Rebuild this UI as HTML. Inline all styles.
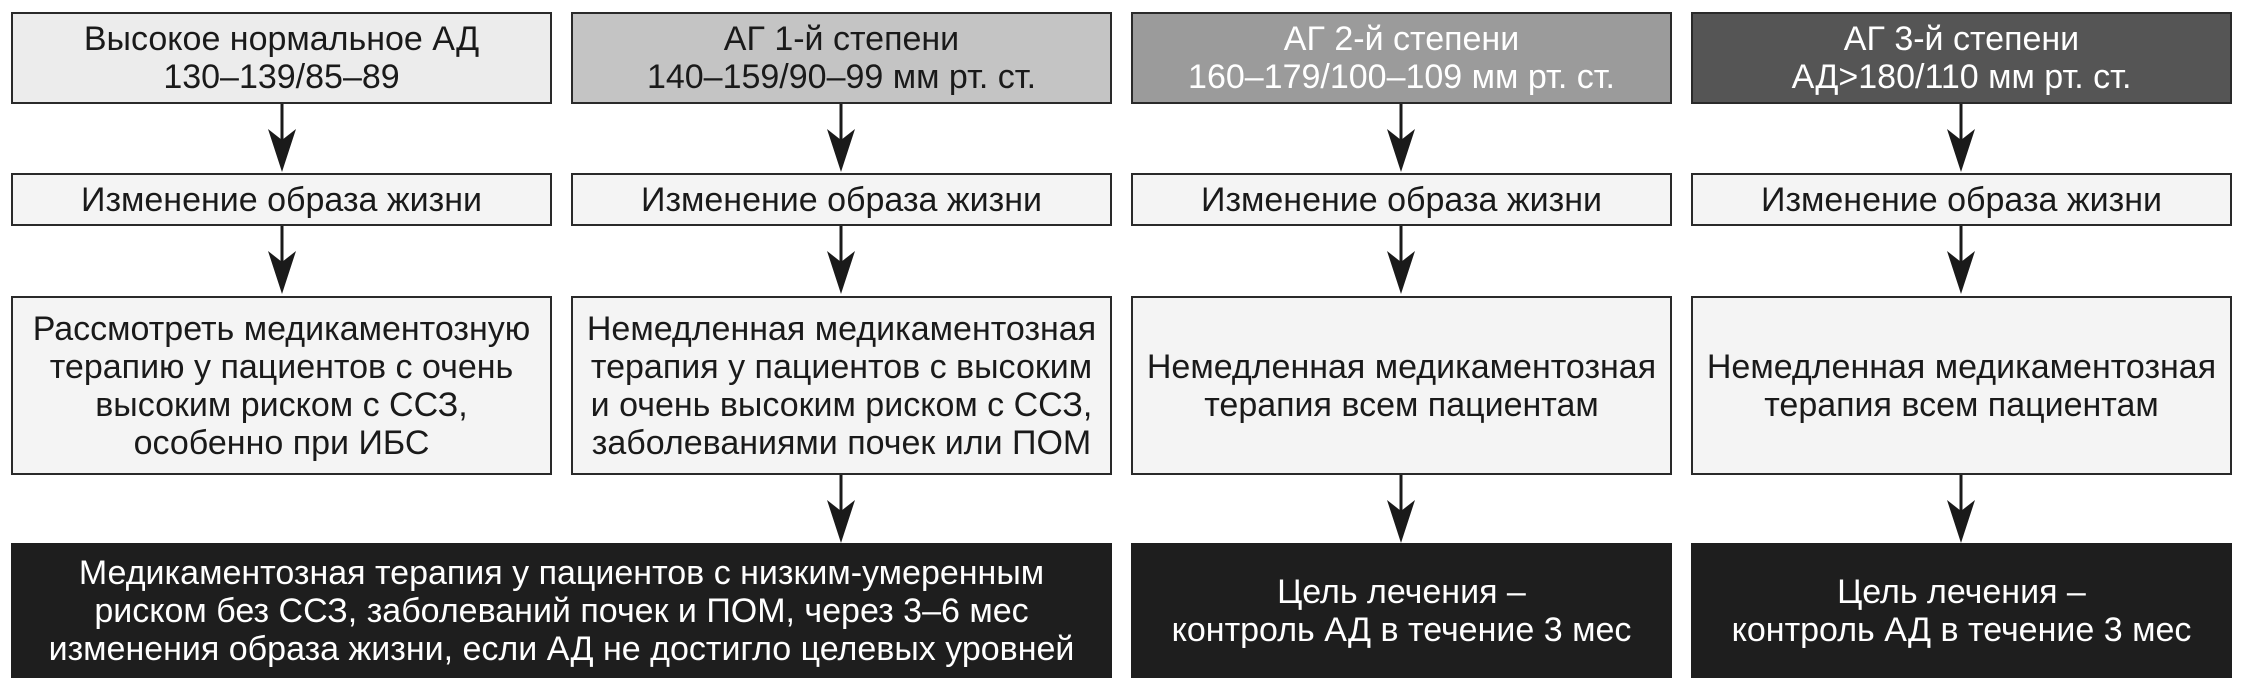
<!DOCTYPE html>
<html><head><meta charset="utf-8"><style>
body{margin:0;width:2243px;height:680px;background:#fff;position:relative;overflow:hidden;font-family:"Liberation Sans","Noto Sans CJK SC",sans-serif;}
.b{position:absolute;box-sizing:border-box;border:2px solid #2a2a2a;display:flex;align-items:center;justify-content:center;text-align:center;font-size:34px;line-height:38px;color:#1a1a1a;}
.w{color:#fff}
</style></head><body>
<div class="b" style="left:11px;top:12px;width:541px;height:92px;background:#ececec">Высокое нормальное АД<br>130–139/85–89</div>
<div class="b" style="left:571px;top:12px;width:541px;height:92px;background:#c4c4c4">АГ 1-й степени<br>140–159/90–99 мм рт. ст.</div>
<div class="b w" style="left:1131px;top:12px;width:541px;height:92px;background:#9b9b9b">АГ 2-й степени<br>160–179/100–109 мм рт. ст.</div>
<div class="b w" style="left:1691px;top:12px;width:541px;height:92px;background:#555">АГ 3-й степени<br>АД&gt;180/110 мм рт. ст.</div>

<div class="b" style="left:11px;top:173px;width:541px;height:53px;background:#f4f4f4">Изменение образа жизни</div>
<div class="b" style="left:571px;top:173px;width:541px;height:53px;background:#f4f4f4">Изменение образа жизни</div>
<div class="b" style="left:1131px;top:173px;width:541px;height:53px;background:#f4f4f4">Изменение образа жизни</div>
<div class="b" style="left:1691px;top:173px;width:541px;height:53px;background:#f4f4f4">Изменение образа жизни</div>

<div class="b" style="left:11px;top:296px;width:541px;height:179px;background:#f4f4f4">Рассмотреть медикаментозную<br>терапию у пациентов с очень<br>высоким риском с ССЗ,<br>особенно при ИБС</div>
<div class="b" style="left:571px;top:296px;width:541px;height:179px;background:#f4f4f4">Немедленная медикаментозная<br>терапия у пациентов с высоким<br>и очень высоким риском с ССЗ,<br>заболеваниями почек или ПОМ</div>
<div class="b" style="left:1131px;top:296px;width:541px;height:179px;background:#f4f4f4">Немедленная медикаментозная<br>терапия всем пациентам</div>
<div class="b" style="left:1691px;top:296px;width:541px;height:179px;background:#f4f4f4">Немедленная медикаментозная<br>терапия всем пациентам</div>

<div class="b w" style="left:11px;top:543px;width:1101px;height:135px;background:#1e1e1e;border-color:#1e1e1e">Медикаментозная терапия у пациентов с низким-умеренным<br>риском без ССЗ, заболеваний почек и ПОМ, через 3–6 мес<br>изменения образа жизни, если АД не достигло целевых уровней</div>
<div class="b w" style="left:1131px;top:543px;width:541px;height:135px;background:#1e1e1e;border-color:#1e1e1e">Цель лечения –<br>контроль АД в течение 3 мес</div>
<div class="b w" style="left:1691px;top:543px;width:541px;height:135px;background:#1e1e1e;border-color:#1e1e1e">Цель лечения –<br>контроль АД в течение 3 мес</div>

<svg width="2243" height="680" style="position:absolute;left:0;top:0">
<defs><g id="a"><line x1="0" y1="0" x2="0" y2="60" stroke="#1a1a1a" stroke-width="3"/><polygon points="-14,25 0,36 14,25 0,68" fill="#1a1a1a"/></g></defs>
<use href="#a" x="282" y="104"/><use href="#a" x="841" y="104"/><use href="#a" x="1401" y="104"/><use href="#a" x="1961" y="104"/>
<use href="#a" x="282" y="226"/><use href="#a" x="841" y="226"/><use href="#a" x="1401" y="226"/><use href="#a" x="1961" y="226"/>
<use href="#a" x="841" y="475"/><use href="#a" x="1401" y="475"/><use href="#a" x="1961" y="475"/>
</svg>
</body></html>
